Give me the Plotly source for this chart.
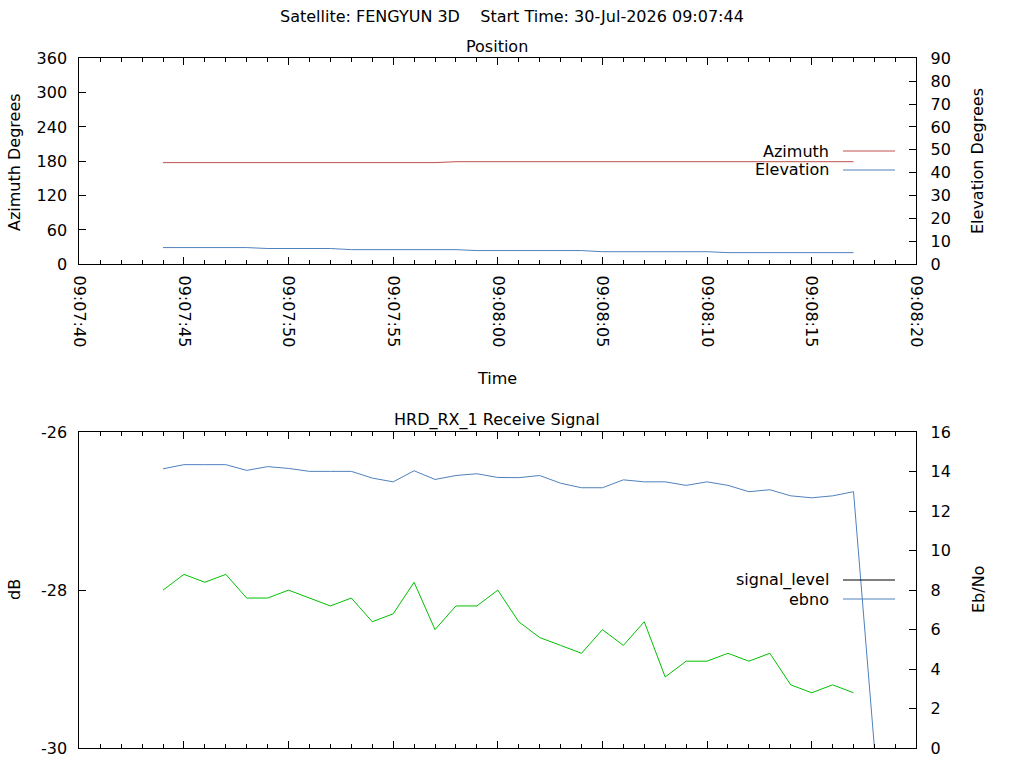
import pandas as pd
import plotly.graph_objs as go

# Datos (una muestra por segundo desde 09:07:44)
t0 = pd.Timestamp('2026-07-30 09:07:44')
tiempos = [t0 + pd.Timedelta(seconds=k) for k in range(35)]

azimuth = [177.7] * 14 + [179.3] * 20
elevation = [7.3, 7.3, 7.3, 7.3, 7.3,
             6.9, 6.9, 6.9, 6.9,
             6.4, 6.4, 6.4, 6.4, 6.4, 6.4,
             6.0, 6.0, 6.0, 6.0, 6.0, 6.0,
             5.5, 5.5, 5.5, 5.5, 5.5, 5.5,
             5.1, 5.1, 5.1, 5.1, 5.1, 5.1, 5.1]

signal_level = [-28.0, -27.8, -27.9, -27.8, -28.1, -28.1, -28.0, -28.1, -28.2, -28.1,
                -28.4, -28.3, -27.9, -28.5, -28.2, -28.2, -28.0, -28.4, -28.6, -28.7,
                -28.8, -28.5, -28.7, -28.4, -29.1, -28.9, -28.9, -28.8, -28.9, -28.8,
                -29.2, -29.3, -29.2, -29.3]
ebno = [14.15, 14.36, 14.36, 14.36, 14.07, 14.26, 14.17, 14.02, 14.02, 14.02,
        13.68, 13.49, 14.05, 13.61, 13.81, 13.90, 13.71, 13.70, 13.81, 13.42,
        13.19, 13.19, 13.59, 13.49, 13.49, 13.31, 13.49, 13.31, 12.99, 13.09,
        12.78, 12.68, 12.78, 12.99, 0.0]

db_ticks = [-30, -28, -26]
db_labels = ['-30', '-28', '-26']

titulo = 'Satellite: FENGYUN 3D    Start Time: 30-Jul-2026 09:07:44'
rango_t = ['2026-07-30 09:07:40', '2026-07-30 09:08:20']

ROJO = '#c0504d'
AZUL = '#4f81bd'
VERDE = '#00c000'
FUENTE = 'DejaVu Sans'

W, H = 1024, 768
def px(x):  # pixel horizontal -> papel
    return x / W
def py(y):  # pixel vertical -> papel
    return 1 - y / H

fig = go.Figure()
fig.add_trace(go.Scatter(x=tiempos[:34], y=azimuth, mode='lines', name='Azimuth',
                         line=dict(color=ROJO, width=1), xaxis='x', yaxis='y'))
fig.add_trace(go.Scatter(x=tiempos[:34], y=elevation, mode='lines', name='Elevation',
                         line=dict(color=AZUL, width=1), xaxis='x', yaxis='y2'))
fig.add_trace(go.Scatter(x=tiempos[:34], y=signal_level, mode='lines', name='signal_level',
                         line=dict(color=VERDE, width=1), xaxis='x2', yaxis='y3'))
fig.add_trace(go.Scatter(x=tiempos, y=ebno, mode='lines', name='ebno',
                         line=dict(color=AZUL, width=1), xaxis='x2', yaxis='y4'))

dom_x = [px(79.3), px(916.3)]
eje_comun = dict(showline=True, linecolor='black', linewidth=1, ticks='inside',
                 tickcolor='black', tickwidth=1, ticklen=7, showgrid=False,
                 zeroline=False, automargin=False,
                 tickfont=dict(family=FUENTE, size=16, color='black'))
eje_x = dict(eje_comun, type='date', range=rango_t, domain=dom_x, dtick=5000,
             tick0='2026-07-30 09:07:40', tickformat='%H:%M:%S', tickangle=90,
             mirror='ticks', ticklabelstandoff=7,
             minor=dict(ticks='inside', ticklen=4, dtick=1000, tickcolor='black'))

fig.update_layout(
    width=W, height=H, margin=dict(l=0, r=0, t=0, b=0),
    template='none', paper_bgcolor='white', plot_bgcolor='white',
    showlegend=False,
    xaxis=dict(eje_x, anchor='y'),
    yaxis=dict(eje_comun, domain=[py(264.3), py(58.3)], range=[0, 360], dtick=60,
               anchor='x', ticklabelstandoff=8),
    yaxis2=dict(eje_comun, range=[0, 90], dtick=10, overlaying='y', side='right',
                anchor='x', ticklabelstandoff=10),
    xaxis2=dict(eje_x, anchor='y3', showticklabels=False),
    yaxis3=dict(eje_comun, domain=[py(748), py(432.3)], range=[-30, -26],
                tickmode='array', tickvals=db_ticks, ticktext=db_labels,
                anchor='x2', ticklabelstandoff=8),
    yaxis4=dict(eje_comun, range=[0, 16], dtick=2, overlaying='y3', side='right',
                anchor='x2', ticklabelstandoff=10),
)

# Textos: titulo, subtitulos y titulos de ejes
textos = [
    (titulo, 512, 17, 0),
    ('Position', 497, 46, 0),
    ('Time', 497, 379, 0),
    ('HRD_RX_1 Receive Signal', 497, 420, 0),
    ('Azimuth Degrees', 14, 162, -90),
    ('Elevation Degrees', 978, 161, -90),
    ('dB', 14, 590, -90),
    ('Eb/No', 978, 590, -90),
]
for txt, x, y, ang in textos:
    fig.add_annotation(text=txt, x=px(x), y=py(y), xref='paper', yref='paper',
                       showarrow=False, textangle=ang, xanchor='center', yanchor='middle',
                       font=dict(family=FUENTE, size=16, color='black'))

# Leyendas al estilo gnuplot (texto a la izquierda, muestra de linea a la derecha)
leyendas = [('Azimuth', ROJO, 151), ('Elevation', AZUL, 170),
            ('signal_level', 'black', 580), ('ebno', AZUL, 599)]
for txt, color, y in leyendas:
    fig.add_annotation(text=txt, x=px(831), y=py(y), xref='paper', yref='paper',
                       showarrow=False, xanchor='right', yanchor='middle',
                       font=dict(family=FUENTE, size=16, color='black'))
    fig.add_shape(type='line', xref='paper', yref='paper', x0=px(843), x1=px(895),
                  y0=py(y), y1=py(y), line=dict(color=color, width=1))

# quitar el margen del body para que la figura ocupe toda la ventana
fig.write_html('out.html', config={'displayModeBar': False},
               post_script="document.body.style.margin='0px';document.body.style.overflow='hidden';")
